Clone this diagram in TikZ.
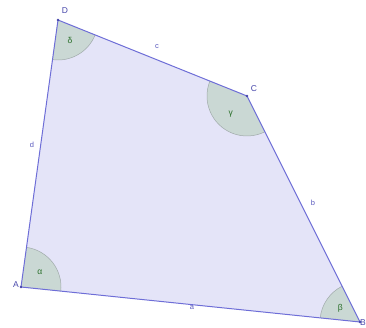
\documentclass[tikz,border=0pt]{standalone}
\usepackage{fontspec}
\setmainfont{Liberation Sans}
\usetikzlibrary{angles,quotes}
\definecolor{edgecol}{RGB}{110,110,215}
\definecolor{polyfill}{RGB}{228,228,248}
\definecolor{secfill}{RGB}{202,216,212}
\definecolor{secline}{RGB}{160,170,170}
\definecolor{greekcol}{RGB}{40,110,40}
\definecolor{vlabel}{RGB}{70,70,170}
\definecolor{elabel}{RGB}{90,90,190}
\tikzset{
  sector/.style={draw=secline, line width=0.5pt, fill=secfill, angle radius=40pt, angle eccentricity=0.6},
  edgeline/.style={draw=edgecol, line width=1pt},
  vtxlabel/.style={text=vlabel, font=\fontsize{8.5}{8.5}\selectfont, inner sep=0pt},
  edglabel/.style={text=elabel, font=\fontsize{7.5}{7.5}\selectfont, inner sep=0pt},
  greeklabel/.style={text=greekcol, font=\fontsize{8.5}{8.5}\selectfont}
}
\begin{document}
\begin{tikzpicture}[x=1pt,y=1pt]
\useasboundingbox (0,0) rectangle (366,327);
\coordinate (A) at (21,40);
\coordinate (B) at (360,5);
\coordinate (C) at (247,231);
\coordinate (D) at (58,307);
\fill[polyfill] (A) -- (B) -- (C) -- (D) -- cycle;
\pic[sector, "δ"{greeklabel}] {angle = A--D--C};
\pic[sector, "γ"{greeklabel}] {angle = D--C--B};
\pic[sector, "α"{greeklabel}] {angle = B--A--D};
\pic[sector, "β"{greeklabel}] {angle = C--B--A};
\draw[edgeline, line join=round] (A) -- (B) -- (C) -- (D) -- cycle;
\foreach \p in {A,B,C,D} \fill[vlabel] (\p) circle (1.3pt);
\node[vtxlabel] (lD) at (65,316) {D};
\node[vtxlabel] (lC) at (254,238) {C};
\node[vtxlabel] (lA) at (16,42) {A};
\node[vtxlabel, anchor=east] (lB) at (366,4) {B};
\node[edglabel] (la) at (192,19) {a};
\node[edglabel] (lb) at (313,124) {b};
\node[edglabel] (lc) at (157,280) {c};
\node[edglabel] (ld) at (32,182) {d};
\end{tikzpicture}
\end{document}
